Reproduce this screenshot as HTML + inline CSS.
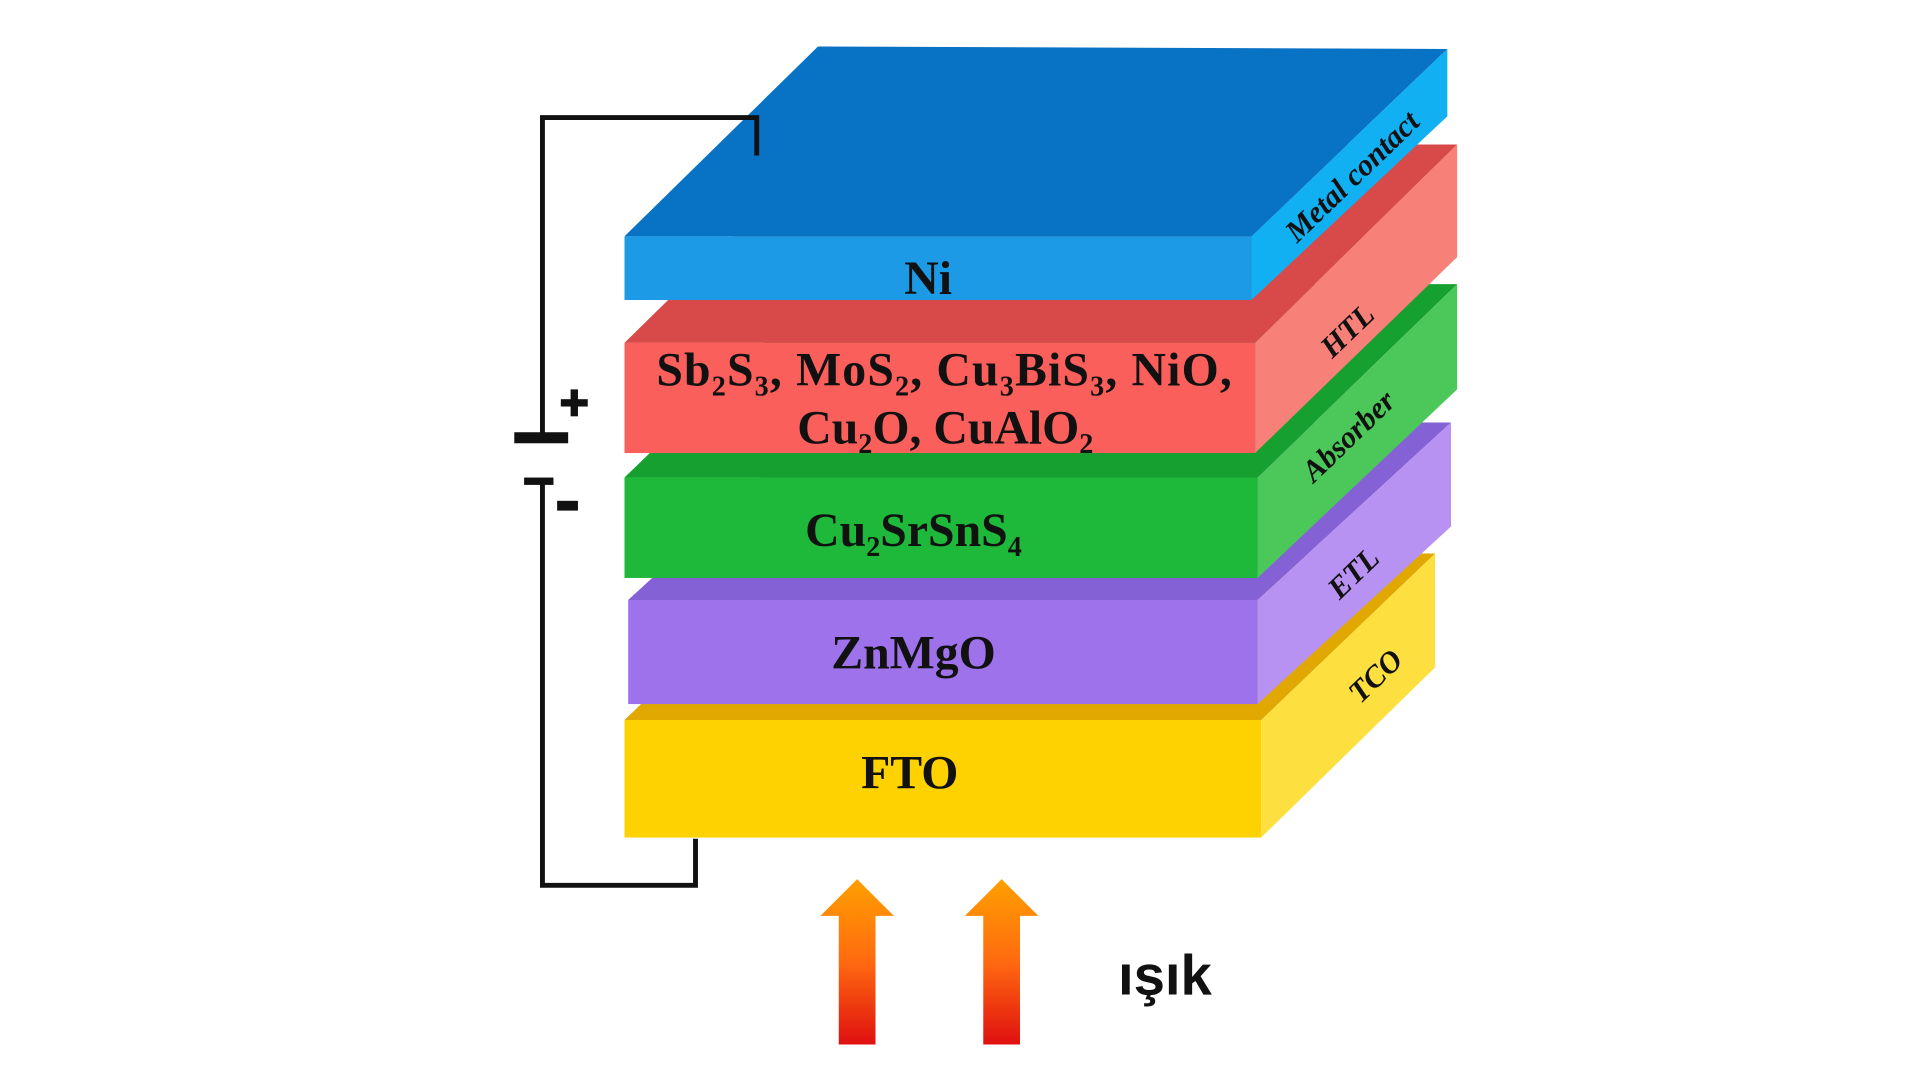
<!DOCTYPE html>
<html><head><meta charset="utf-8"><style>
html,body{margin:0;padding:0;background:#fff;width:1920px;height:1080px;overflow:hidden}
svg{display:block}
.f{font-family:"Liberation Serif",serif;font-weight:bold;font-size:39px;fill:#111;text-anchor:middle}
.s{font-family:"Liberation Serif",serif;font-weight:bold;font-style:italic;font-size:25px;fill:#111;text-anchor:middle}
</style></head><body>
<svg width="1920" height="1080" viewBox="0 0 1568 882" preserveAspectRatio="none">
<defs>
<linearGradient id="ar" x1="0" y1="0" x2="0" y2="1">
<stop offset="0" stop-color="#ffa000"/><stop offset="0.5" stop-color="#ff6a10"/><stop offset="1" stop-color="#e01010"/>
</linearGradient>
</defs>
<polygon points="510,588 1030,588 1172,452 652,452" fill="#e0a800"/>
<polygon points="1030,588 1172,452 1172,545 1030,684" fill="#fde040"/>
<rect x="510" y="588" width="520" height="96" fill="#fdd200"/>
<polygon points="513,490 1027,490 1185,345 671,345" fill="#8462d6"/>
<polygon points="1027,490 1185,345 1185,430 1027,575" fill="#b892f2"/>
<rect x="513" y="490" width="514" height="85" fill="#9e72ea"/>
<polygon points="510,390 1027,390 1190,232 673,232" fill="#16a030"/>
<polygon points="1027,390 1190,232 1190,318 1027,472" fill="#4cc85a"/>
<rect x="510" y="390" width="517" height="82" fill="#1eb83a"/>
<polygon points="510,280 1025,280 1190,118 675,118" fill="#d84a4a"/>
<polygon points="1025,280 1190,118 1190,210 1025,370" fill="#f78078"/>
<rect x="510" y="280" width="515" height="90" fill="#fb5f5c"/>
<polygon points="510,193 1022,193 1182,40 668,38" fill="#0872c4"/>
<polygon points="1022,193 1182,40 1182,95 1022,245" fill="#10b0f2"/>
<rect x="510" y="193" width="512" height="52" fill="#1c9ae6"/>
<text class="f" x="758" y="240">Ni</text>
<text class="f" x="771" y="315" textLength="470" lengthAdjust="spacing">Sb<tspan font-size="23" dy="8">2</tspan><tspan dy="-8">S</tspan><tspan font-size="23" dy="8">3</tspan><tspan dy="-8">, MoS</tspan><tspan font-size="23" dy="8">2</tspan><tspan dy="-8">, Cu</tspan><tspan font-size="23" dy="8">3</tspan><tspan dy="-8">BiS</tspan><tspan font-size="23" dy="8">3</tspan><tspan dy="-8">, NiO,</tspan></text>
<text class="f" x="772" y="362">Cu<tspan font-size="23" dy="8">2</tspan><tspan dy="-8">O, CuAlO</tspan><tspan font-size="23" dy="8">2</tspan></text>
<text class="f" x="746" y="446">Cu<tspan font-size="23" dy="8">2</tspan><tspan dy="-8">SrSnS</tspan><tspan font-size="23" dy="8">4</tspan></text>
<text class="f" x="746" y="546">ZnMgO</text>
<text class="f" x="743" y="644">FTO</text>
<text class="s" transform="translate(1110,150) rotate(-44)">Metal contact</text>
<text class="s" transform="translate(1106,276) rotate(-44)">HTL</text>
<text class="s" transform="translate(1107,362) rotate(-44)">Absorber</text>
<text class="s" transform="translate(1111,474) rotate(-44)">ETL</text>
<text class="s" transform="translate(1129,558) rotate(-44)">TCO</text>
<polyline points="618,127 618,96 443,96 443,355" fill="none" stroke="#111" stroke-width="4"/>
<rect x="420" y="353" width="44" height="9" fill="#111"/>
<rect x="428" y="390" width="24" height="6" fill="#111"/>
<polyline points="443,392 443,723 568,723 568,685" fill="none" stroke="#111" stroke-width="4"/>
<rect x="458" y="326" width="22" height="6" fill="#111"/>
<rect x="466" y="318" width="6" height="22" fill="#111"/>
<rect x="455" y="409" width="17" height="8" fill="#111"/>
<polygon points="700,718 730,748 715,748 715,853 685,853 685,748 670,748" fill="url(#ar)"/>
<polygon points="818,718 848,748 833,748 833,853 803,853 803,748 788,748" fill="url(#ar)"/>
<text x="913" y="812" font-family="Liberation Sans, sans-serif" font-weight="bold" font-size="46" fill="#111">ışık</text>
</svg>
</body></html>
